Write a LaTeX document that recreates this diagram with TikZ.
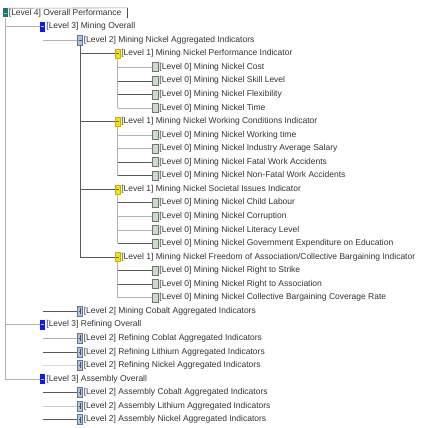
\documentclass[tikz,border=0pt]{standalone}
\usepackage{fontspec}
\setmainfont{Liberation Sans}
\definecolor{lvfourcol}{RGB}{24,118,110}
\definecolor{lvthreecol}{RGB}{22,24,228}
\definecolor{lvtwocol}{RGB}{170,198,228}
\definecolor{lvonecol}{RGB}{240,228,10}
\definecolor{lvzerocol}{RGB}{200,222,198}

\begin{document}
\begin{tikzpicture}[x=1pt,y=-1pt,
	icon/.style={rectangle, inner sep=0pt, minimum width=5pt, minimum height=9pt},
	expminus/.style={path picture={\draw[#1, line width=0.6pt] ([xshift=1pt]path picture bounding box.west) -- ([xshift=-1pt]path picture bounding box.east);}},
	expplus/.style={path picture={\draw[#1, line width=0.5pt] ([xshift=1.2pt]path picture bounding box.west) -- ([xshift=-1.2pt]path picture bounding box.east) ([yshift=-2pt]path picture bounding box.north) -- ([yshift=2pt]path picture bounding box.south);}},
	lvfour/.style={icon, fill=lvfourcol, expminus=white!60!lvfourcol},
	lvthree/.style={icon, minimum height=10pt, fill=lvthreecol, expminus=cyan!50!white},
	lvtwo/.style={icon, minimum height=10pt, fill=lvtwocol, draw=lvtwocol!60!black, line width=0.3pt, expminus=blue!30!black!70},
	lvtwoc/.style={icon, minimum height=10pt, fill=lvtwocol, draw=lvtwocol!60!black, line width=0.3pt, expplus=blue!30!black!70},
	lvone/.style={icon, fill=lvonecol, draw=lvonecol!80!black, line width=0.3pt, expminus=orange!60!black},
	lvzero/.style={icon, minimum width=6pt, fill=lvzerocol, draw=black!55, line width=0.5pt},
	txt/.style={anchor=west, inner sep=1pt, font=\fontsize{8.5}{10}\selectfont, text=black!80},
	link/.style={draw=black!30, line width=0.6pt},
	linkdk/.style={draw=black!65, line width=0.6pt}
	]
	\useasboundingbox (0,0) rectangle (422,428);

	\node[lvfour] (ov) at (5,13) {};
	\node[lvthree] (mo) at (42.5,26.6) {};
	\node[lvtwo] (mn) at (80,40.1) {};
	\node[lvone] (perf) at (117.5,53.7) {};
	\node[lvzero] (cost) at (155,67.2) {};
	\node[lvzero] (skill) at (155,80.8) {};
	\node[lvzero] (flex) at (155,94.3) {};
	\node[lvzero] (time) at (155,107.9) {};
	\node[lvone] (work) at (117.5,121.4) {};
	\node[lvzero] (wtime) at (155,135) {};
	\node[lvzero] (salary) at (155,148.5) {};
	\node[lvzero] (fatal) at (155,162.1) {};
	\node[lvzero] (nonfatal) at (155,175.6) {};
	\node[lvone] (soc) at (117.5,189.2) {};
	\node[lvzero] (child) at (155,202.7) {};
	\node[lvzero] (corrupt) at (155,216.3) {};
	\node[lvzero] (literacy) at (155,229.8) {};
	\node[lvzero] (gov) at (155,243.4) {};
	\node[lvone] (free) at (117.5,256.9) {};
	\node[lvzero] (strike) at (155,270.5) {};
	\node[lvzero] (assoc) at (155,284) {};
	\node[lvzero] (cbcr) at (155,297.6) {};
	\node[lvtwoc] (mco) at (80,311.1) {};
	\node[lvthree] (ro) at (42.5,324.7) {};
	\node[lvtwoc] (rco) at (80,338.2) {};
	\node[lvtwoc] (rli) at (80,351.8) {};
	\node[lvtwoc] (rni) at (80,365.3) {};
	\node[lvthree] (ao) at (42.5,378.9) {};
	\node[lvtwoc] (aco) at (80,392.4) {};
	\node[lvtwoc] (ali) at (80,406) {};
	\node[lvtwoc] (ani) at (80,419.5) {};

	\node[txt] (ov-t) at (ov.east) {[Level 4] Overall Performance};
	\node[txt] (mo-t) at (mo.east) {[Level 3] Mining Overall};
	\node[txt] (mn-t) at (mn.east) {[Level 2] Mining Nickel Aggregated Indicators};
	\node[txt] (perf-t) at (perf.east) {[Level 1] Mining Nickel Performance Indicator};
	\node[txt] (cost-t) at (cost.east) {[Level 0] Mining Nickel Cost};
	\node[txt] (skill-t) at (skill.east) {[Level 0] Mining Nickel Skill Level};
	\node[txt] (flex-t) at (flex.east) {[Level 0] Mining Nickel Flexibility};
	\node[txt] (time-t) at (time.east) {[Level 0] Mining Nickel Time};
	\node[txt] (work-t) at (work.east) {[Level 1] Mining Nickel Working Conditions Indicator};
	\node[txt] (wtime-t) at (wtime.east) {[Level 0] Mining Nickel Working time};
	\node[txt] (salary-t) at (salary.east) {[Level 0] Mining Nickel Industry Average Salary};
	\node[txt] (fatal-t) at (fatal.east) {[Level 0] Mining Nickel Fatal Work Accidents};
	\node[txt] (nonfatal-t) at (nonfatal.east) {[Level 0] Mining Nickel Non-Fatal Work Accidents};
	\node[txt] (soc-t) at (soc.east) {[Level 1] Mining Nickel Societal Issues Indicator};
	\node[txt] (child-t) at (child.east) {[Level 0] Mining Nickel Child Labour};
	\node[txt] (corrupt-t) at (corrupt.east) {[Level 0] Mining Nickel Corruption};
	\node[txt] (literacy-t) at (literacy.east) {[Level 0] Mining Nickel Literacy Level};
	\node[txt] (gov-t) at (gov.east) {[Level 0] Mining Nickel Government Expenditure on Education};
	\node[txt] (free-t) at (free.east) {[Level 1] Mining Nickel Freedom of Association/Collective Bargaining Indicator};
	\node[txt] (strike-t) at (strike.east) {[Level 0] Mining Nickel Right to Strike};
	\node[txt] (assoc-t) at (assoc.east) {[Level 0] Mining Nickel Right to Association};
	\node[txt] (cbcr-t) at (cbcr.east) {[Level 0] Mining Nickel Collective Bargaining Coverage Rate};
	\node[txt] (mco-t) at (mco.east) {[Level 2] Mining Cobalt Aggregated Indicators};
	\node[txt] (ro-t) at (ro.east) {[Level 3] Refining Overall};
	\node[txt] (rco-t) at (rco.east) {[Level 2] Refining Coblat Aggregated Indicators};
	\node[txt] (rli-t) at (rli.east) {[Level 2] Refining Lithium Aggregated Indicators};
	\node[txt] (rni-t) at (rni.east) {[Level 2] Refining Nickel Aggregated Indicators};
	\node[txt] (ao-t) at (ao.east) {[Level 3] Assembly Overall};
	\node[txt] (aco-t) at (aco.east) {[Level 2] Assembly Cobalt Aggregated Indicators};
	\node[txt] (ali-t) at (ali.east) {[Level 2] Assembly Lithium Aggregated Indicators};
	\node[txt] (ani-t) at (ani.east) {[Level 2] Assembly Nickel Aggregated Indicators};

	\draw[black!40, line width=0.6pt] (ov.north east) -- ([xshift=5pt]ov-t.north east);
	\draw[black!70, line width=0.6pt] ([xshift=5pt]ov-t.north east) -- ([xshift=5pt]ov-t.south east);

	\draw[link] (ov.south) -- (ov |- ao);
	\draw[link] (ov |- mo) -- (mo.west);
	\draw[link] (ov |- ro) -- (ro.west);
	\draw[link] (ov |- ao) -- (ao.west);

	\draw[link] (mo |- mn) -- (mn.west);
	\draw[linkdk] (mo |- mco) -- (mco.west);
	\draw[link] (ro |- rco) -- (rco.west);
	\draw[linkdk] (ro |- rli) -- (rli.west);
	\draw[black!15, line width=0.6pt] (ro |- rni) -- (rni.west);
	\draw[linkdk] (ao |- aco) -- (aco.west);
	\draw[black!20, line width=0.6pt] (ao |- ali) -- (ali.west);
	\draw[linkdk] (ao |- ani) -- (ani.west);

	\draw[linkdk] (mn.south) -- (mn |- free);
	\draw[linkdk] (mn |- perf) -- (perf.west);
	\draw[linkdk] (mn |- work) -- (work.west);
	\draw[linkdk] (mn |- soc) -- (soc.west);
	\draw[linkdk] (mn |- free) -- (free.west);

	\draw[link] (perf.south) -- (perf |- time);
	\draw[link] (perf |- cost) -- (cost.west);
	\draw[linkdk] (perf |- skill) -- (skill.west);
	\draw[linkdk] (perf |- flex) -- (flex.west);
	\draw[link] (perf |- time) -- (time.west);

	\draw[link] (work.south) -- (work |- nonfatal);
	\draw[link] (work |- wtime) -- (wtime.west);
	\draw[link] (work |- salary) -- (salary.west);
	\draw[linkdk] (work |- fatal) -- (fatal.west);
	\draw[linkdk] (work |- nonfatal) -- (nonfatal.west);

	\draw[link] (soc.south) -- (soc |- gov);
	\draw[linkdk] (soc |- child) -- (child.west);
	\draw[link] (soc |- corrupt) -- (corrupt.west);
	\draw[link] (soc |- literacy) -- (literacy.west);
	\draw[linkdk] (soc |- gov) -- (gov.west);

	\draw[link] (free.south) -- (free |- cbcr);
	\draw[linkdk] (free |- strike) -- (strike.west);
	\draw[linkdk] (free |- assoc) -- (assoc.west);
	\draw[link] (free |- cbcr) -- (cbcr.west);
\end{tikzpicture}
\end{document}
